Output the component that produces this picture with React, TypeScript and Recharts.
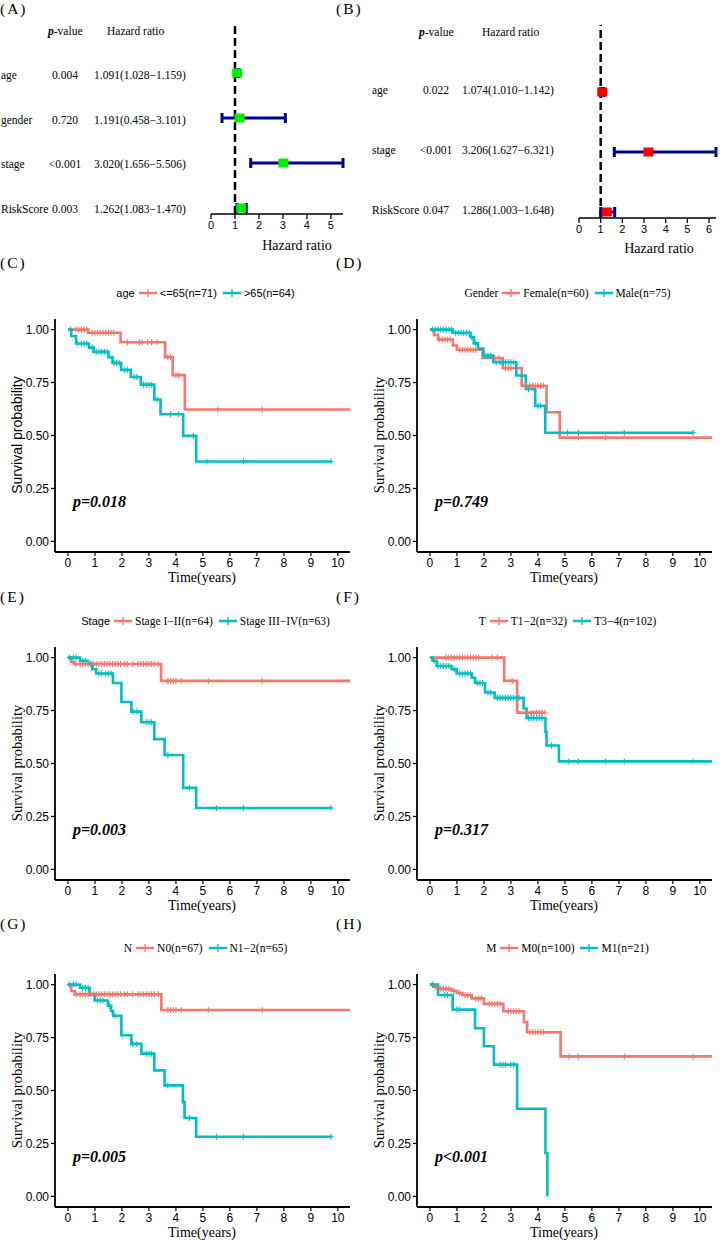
import React from 'react';
import {
  ComposedChart,
  ScatterChart,
  Line,
  Scatter,
  XAxis,
  YAxis,
  ReferenceLine,
  ErrorBar,
} from 'recharts';

const SERIF = '"Liberation Serif", "Times New Roman", serif';
const SANS = '"Liberation Sans", Arial, sans-serif';
const RED = '#F8766D';
const CYAN = '#00BFC4';
const NAVY = '#00008B';

// ---- (A) univariate cox
const uniVars = ['age', 'gender', 'stage', 'RiskScore'];
const uniP = ['0.004', '0.720', '<0.001', '0.003'];
const uniHR = [1.091, 1.191, 3.02, 1.262];
const uniLow = [1.028, 0.458, 1.656, 1.083];
const uniHigh = [1.159, 3.101, 5.506, 1.47];
const uniTicks = [0, 1, 2, 3, 4, 5];

// ---- (B) multivariate cox
const multiVars = ['age', 'stage', 'RiskScore'];
const multiP = ['0.022', '<0.001', '0.047'];
const multiHR = [1.074, 3.206, 1.286];
const multiLow = [1.01, 1.627, 1.003];
const multiHigh = [1.142, 6.321, 1.648];
const multiTicks = [0, 1, 2, 3, 4, 5, 6];

// ---- KM curves: step times, survival after each step, last follow-up, censor times
const timeTicks = [0, 1, 2, 3, 4, 5, 6, 7, 8, 9, 10];
const survTicks = [0, 0.25, 0.5, 0.75, 1];

// (C) age
const cRedT = [0, 0.75, 1.95, 3.6, 3.88, 4.33];
const cRedS = [1, 0.985, 0.94, 0.87, 0.785, 0.623];
const cRedEnd = 10.45;
const cRedCens = [0.3, 0.4, 0.5, 0.6, 0.7, 0.9, 1.0, 1.1, 1.2, 1.3, 1.4, 1.5, 1.6, 1.7, 2.2, 2.65, 2.75, 2.95, 3.1, 3.3, 3.7, 3.8, 4.0, 4.1, 5.55, 7.2];
const cCyanT = [0, 0.12, 0.3, 0.78, 0.95, 1.5, 1.65, 1.97, 2.33, 2.7, 3.2, 3.43, 4.27, 4.75];
const cCyanS = [1, 0.97, 0.934, 0.915, 0.895, 0.87, 0.843, 0.81, 0.776, 0.74, 0.67, 0.6, 0.498, 0.377];
const cCyanEnd = 9.75;
const cCyanCens = [0.1, 0.35, 0.5, 0.6, 0.7, 0.9, 1.05, 1.15, 1.25, 1.35, 1.45, 1.7, 1.8, 1.9, 2.1, 2.2, 2.45, 2.55, 2.8, 2.9, 3.0, 3.1, 3.3, 3.8, 4.1, 4.65, 5.15, 6.5, 9.75];

// (D) gender
const dRedT = [0, 0.15, 0.3, 0.85, 1.0, 1.95, 2.7, 3.4, 4.32, 4.81];
const dRedS = [1, 0.975, 0.953, 0.925, 0.905, 0.866, 0.818, 0.735, 0.61, 0.49];
const dRedEnd = 10.45;
const dRedCens = [0.35, 0.45, 0.55, 0.65, 0.75, 1.1, 1.2, 1.3, 1.4, 1.5, 1.6, 1.7, 2.4, 2.55, 2.8, 2.9, 3.0, 3.55, 3.7, 3.8, 3.9, 4.0, 4.1, 4.2, 5.5, 6.5];
const dCyanT = [0, 0.85, 1.5, 1.62, 1.78, 1.98, 2.35, 3.2, 3.55, 3.9, 4.27];
const dCyanS = [1, 0.985, 0.965, 0.935, 0.91, 0.877, 0.846, 0.783, 0.72, 0.64, 0.513];
const dCyanEnd = 9.75;
const dCyanCens = [0.1, 0.2, 0.3, 0.4, 0.5, 0.6, 0.7, 0.8, 0.95, 1.05, 1.15, 1.25, 1.35, 1.45, 1.55, 1.7, 2.05, 2.15, 2.25, 2.45, 2.6, 2.7, 2.8, 2.9, 3.0, 3.1, 3.4, 3.65, 4.0, 4.1, 5.1, 5.5, 7.2, 9.75];

// (E) stage
const eRedT = [0, 0.12, 0.22, 3.45];
const eRedS = [1, 0.98, 0.97, 0.89];
const eRedEnd = 10.45;
const eRedCens = [0.3, 0.45, 0.55, 0.65, 0.75, 0.85, 0.95, 1.05, 1.15, 1.25, 1.35, 1.45, 1.55, 1.65, 1.75, 1.85, 1.95, 2.1, 2.2, 2.4, 2.6, 2.7, 2.8, 2.9, 3.0, 3.1, 3.2, 3.35, 3.7, 3.8, 3.9, 4.0, 4.2, 5.2, 7.2];
const eCyanT = [0, 0.45, 0.75, 0.9, 1.05, 1.67, 1.98, 2.35, 2.72, 3.2, 3.58, 4.27, 4.75];
const eCyanS = [1, 0.985, 0.97, 0.945, 0.925, 0.88, 0.79, 0.745, 0.695, 0.615, 0.54, 0.385, 0.29];
const eCyanEnd = 9.75;
const eCyanCens = [0.05, 0.2, 0.3, 0.55, 0.65, 0.85, 1.15, 1.25, 1.4, 1.5, 1.6, 2.4, 2.55, 2.9, 3.0, 3.1, 3.7, 4.5, 5.5, 6.5, 9.75];

// (F) T
const fRedT = [0, 2.75, 3.23];
const fRedS = [1, 0.89, 0.74];
const fRedEnd = 4.26;
const fRedCens = [0.6, 0.7, 0.8, 0.9, 1.0, 1.1, 1.2, 1.3, 1.4, 1.5, 1.6, 1.7, 1.8, 2.3, 2.5, 3.05, 3.6, 3.75, 3.85, 3.95, 4.05, 4.15, 4.26];
const fCyanT = [0, 0.1, 0.25, 0.8, 0.99, 1.55, 1.67, 2.04, 2.4, 3.47, 3.58, 4.28, 4.32, 4.78];
const fCyanS = [1, 0.985, 0.96, 0.945, 0.925, 0.905, 0.88, 0.835, 0.81, 0.76, 0.715, 0.65, 0.585, 0.51];
const fCyanEnd = 10.45;
const fCyanCens = [0.15, 0.3, 0.4, 0.5, 0.6, 0.7, 0.9, 1.1, 1.2, 1.3, 1.4, 1.5, 1.75, 1.85, 1.95, 2.15, 2.25, 2.5, 2.6, 2.7, 2.8, 2.9, 3.0, 3.1, 3.2, 3.3, 3.65, 3.75, 3.85, 3.95, 4.05, 4.15, 4.5, 5.15, 5.5, 6.5, 7.2, 9.75];

// (G) N
const gRedT = [0, 0.12, 0.25, 3.46];
const gRedS = [1, 0.97, 0.954, 0.88];
const gRedEnd = 10.45;
const gRedCens = [0.3, 0.45, 0.55, 0.65, 0.75, 0.85, 0.95, 1.05, 1.15, 1.25, 1.35, 1.45, 1.55, 1.65, 1.75, 1.85, 1.95, 2.1, 2.2, 2.4, 2.6, 2.7, 2.8, 2.9, 3.0, 3.1, 3.2, 3.35, 3.7, 3.8, 3.9, 4.0, 4.2, 5.2, 7.2];
const gCyanT = [0, 0.45, 0.8, 0.99, 1.48, 1.6, 1.67, 1.98, 2.35, 2.72, 3.2, 3.58, 4.26, 4.32, 4.75];
const gCyanS = [1, 0.985, 0.955, 0.925, 0.9, 0.875, 0.853, 0.761, 0.72, 0.674, 0.595, 0.524, 0.445, 0.37, 0.282];
const gCyanEnd = 9.75;
const gCyanCens = [0.05, 0.2, 0.3, 0.55, 0.65, 0.75, 1.1, 1.2, 1.3, 1.55, 1.75, 2.4, 2.55, 2.9, 3.0, 3.1, 3.7, 4.5, 5.5, 6.5, 9.75];

// (H) M
const hRedT = [0, 0.12, 0.3, 0.8, 1.0, 1.2, 1.55, 2.0, 2.72, 3.48, 3.6, 4.84];
const hRedS = [1, 0.99, 0.98, 0.97, 0.96, 0.95, 0.935, 0.909, 0.874, 0.822, 0.775, 0.661];
const hRedEnd = 10.45;
const hRedCens = [0.2, 0.4, 0.5, 0.6, 0.7, 0.9, 1.1, 1.3, 1.4, 1.5, 1.7, 1.8, 1.9, 2.2, 2.3, 2.4, 2.5, 2.6, 2.9, 3.0, 3.1, 3.2, 3.3, 3.7, 3.8, 3.9, 4.0, 4.1, 4.2, 5.15, 5.5, 7.2, 9.75];
const hCyanT = [0, 0.3, 0.84, 1.67, 2.0, 2.37, 3.23, 4.28, 4.35];
const hCyanS = [1, 0.951, 0.882, 0.794, 0.709, 0.622, 0.414, 0.205, 0];
const hCyanEnd = 4.35;
const hCyanCens = [0.1, 0.55, 0.65, 1.0, 1.1, 2.6, 2.7, 2.8, 3.0, 3.1];

type Curve = { t: number[]; s: number[]; end: number; cens: number[] };

const mk = (t: number[], s: number[], end: number, cens: number[]): Curve => ({ t, s, end, cens });

const stepAt = (c: Curve, x: number) => {
  let v = c.s[0];
  c.t.forEach((t, i) => {
    if (t <= x) v = c.s[i];
  });
  return v;
};
const stepData = (c: Curve) => [
  ...c.t.map((t, i) => ({ t, s: c.s[i] })),
  { t: c.end, s: c.s[c.s.length - 1] },
];
const censData = (c: Curve) => c.cens.map((t) => ({ t, s: stepAt(c, t) }));

// censor mark "+"
const plus = (color: string) => (p: any) => (
  <g>
    <line x1={p.cx} x2={p.cx} y1={p.cy - 3} y2={p.cy + 3} stroke={color} strokeWidth={1.1} />
    <line x1={p.cx - 2.5} x2={p.cx + 2.5} y1={p.cy} y2={p.cy} stroke={color} strokeWidth={1.1} />
  </g>
);

function Key({ color }: { color: string }) {
  return (
    <svg width={18} height={10} style={{ margin: '0 3px 0 4px', flex: 'none' }}>
      <line x1={0} x2={18} y1={5} y2={5} stroke={color} strokeWidth={2.5} />
      <line x1={9} x2={9} y1={1} y2={9} stroke={color} strokeWidth={1.3} />
    </svg>
  );
}

type KMProps = {
  left: number;
  top: number;
  red: Curve;
  cyan: Curve;
  legendTitle: string;
  legendLabels: string[];
  titleSans: boolean;
  labelSans: boolean;
  ySans: boolean;
  pText: string;
};

function KMPanel({ left, top, red, cyan, legendTitle, legendLabels, titleSans, labelSans, ySans, pText }: KMProps) {
  const axisStyle = { stroke: '#000', strokeWidth: 1.8 };
  const tickStyle = { fill: '#000', fontSize: 12, fontFamily: SANS };
  return (
    <div style={{ position: 'absolute', left, top, width: 362, height: 360 }}>
      <div style={{ position: 'absolute', left: 0, top: 81 }}>
        <ComposedChart width={362} height={277} margin={{ top: 8, right: 12, left: 0, bottom: 0 }}>
          <XAxis
            type="number"
            dataKey="t"
            domain={() => [-0.48, 10.44]}
            ticks={timeTicks}
            interval={0}
            height={36}
            tickSize={4}
            axisLine={axisStyle}
            tickLine={{ stroke: '#000', strokeWidth: 1.2 }}
            tick={tickStyle}
          />
          <YAxis
            type="number"
            domain={() => [-0.05, 1.05]}
            ticks={survTicks}
            interval={0}
            width={55}
            tickSize={4}
            tickFormatter={(v: number) => v.toFixed(2)}
            axisLine={axisStyle}
            tickLine={{ stroke: '#000', strokeWidth: 1.2 }}
            tick={tickStyle}
          />
          <Line data={stepData(red)} dataKey="s" type="stepAfter" stroke={RED} strokeWidth={2.6} dot={false} activeDot={false} isAnimationActive={false} />
          <Line data={stepData(cyan)} dataKey="s" type="stepAfter" stroke={CYAN} strokeWidth={2.6} dot={false} activeDot={false} isAnimationActive={false} />
          <Scatter data={censData(red)} dataKey="s" shape={plus(RED)} isAnimationActive={false} />
          <Scatter data={censData(cyan)} dataKey="s" shape={plus(CYAN)} isAnimationActive={false} />
        </ComposedChart>
      </div>
      <div
        style={{
          position: 'absolute',
          left: 58,
          width: 295,
          top: 55,
          height: 16,
          display: 'flex',
          justifyContent: 'center',
          alignItems: 'center',
          whiteSpace: 'nowrap',
          color: '#000',
        }}
      >
        <span style={{ fontFamily: titleSans ? SANS : SERIF, fontSize: titleSans ? 11 : 11.5 }}>{legendTitle}</span>
        <Key color={RED} />
        <span style={{ fontFamily: labelSans ? SANS : SERIF, fontSize: labelSans ? 11 : 11.5 }}>{legendLabels[0]}</span>
        <span style={{ width: 2 }} />
        <Key color={CYAN} />
        <span style={{ fontFamily: labelSans ? SANS : SERIF, fontSize: labelSans ? 11 : 11.5 }}>{legendLabels[1]}</span>
      </div>
      <svg width={362} height={360} style={{ position: 'absolute', left: 0, top: 0, pointerEvents: 'none' }}>
        <text
          x={17}
          y={205}
          transform="rotate(-90 17 205)"
          textAnchor="middle"
          dominantBaseline="central"
          fontFamily={ySans ? SANS : SERIF}
          fontSize={ySans ? 14 : 14.5}
          fill="#000"
        >
          Survival probability
        </text>
        <text x={202} y={347} textAnchor="middle" dominantBaseline="central" fontFamily={SERIF} fontSize={14} fill="#000">
          Time(years)
        </text>
        <text x={73} y={271} dominantBaseline="central" fontFamily={SERIF} fontSize={16} fontWeight="bold" fontStyle="italic" fill="#000">
          {pText}
        </text>
      </svg>
    </div>
  );
}

type ForestProps = {
  left: number;
  vars: string[];
  pvals: string[];
  hr: number[];
  lo: number[];
  hi: number[];
  ticks: number[];
  color: string;
  yDomain: number[];
  margin: { top: number; right: number; left: number; bottom: number };
  axisH: number;
  rowY0: number;
  rowPitch: number;
  labelX: number;
  pX: number;
  hrX: number;
  headY: number;
  headPX: number;
  headHRX: number;
  titleX: number;
  titleY: number;
};

function ForestPanel(props: ForestProps) {
  const { left, vars, pvals, hr, lo, hi, ticks, color, yDomain, margin, axisH } = props;
  const rows = vars.map((v, i) => ({
    name: v,
    row: vars.length - i,
    hr: hr[i],
    err: [hr[i] - lo[i], hi[i] - hr[i]],
  }));
  const xMax = ticks[ticks.length - 1];
  const box = (p: any) => <rect x={p.cx - 5} y={p.cy - 4.5} width={10} height={9} fill={color} />;
  const txt = { fontFamily: SERIF, fontSize: 11.5, fill: '#000' };
  return (
    <div style={{ position: 'absolute', left, top: 0, width: 362, height: 260 }}>
      <div style={{ position: 'absolute', left: 0, top: 0 }}>
        <ScatterChart width={362} height={240} margin={margin}>
          <XAxis
            type="number"
            dataKey="hr"
            domain={() => [0, xMax]}
            ticks={ticks}
            interval={0}
            height={axisH}
            tickSize={5}
            axisLine={{ stroke: '#000', strokeWidth: 1.3 }}
            tickLine={{ stroke: '#000', strokeWidth: 1.3 }}
            tick={{ fill: '#000', fontSize: 11, fontFamily: SANS }}
          />
          <YAxis type="number" dataKey="row" domain={() => yDomain} hide />
          <ReferenceLine x={1} stroke="#000" strokeWidth={2.5} strokeDasharray="8 4" />
          <Scatter data={rows} fill={color} shape={box} isAnimationActive={false}>
            <ErrorBar dataKey="err" direction="x" width={5} stroke={NAVY} strokeWidth={3} />
          </Scatter>
        </ScatterChart>
      </div>
      <svg width={362} height={260} style={{ position: 'absolute', left: 0, top: 0, pointerEvents: 'none' }}>
        <text x={props.headPX} y={props.headY} dominantBaseline="central" {...txt}>
          <tspan fontWeight="bold" fontStyle="italic">p</tspan>-value
        </text>
        <text x={props.headHRX} y={props.headY} dominantBaseline="central" {...txt}>
          Hazard ratio
        </text>
        {vars.map((v, i) => {
          const y = props.rowY0 + i * props.rowPitch;
          return (
            <g key={v}>
              <text x={props.labelX} y={y} dominantBaseline="central" {...txt}>
                {v}
              </text>
              <text x={props.pX} y={y} textAnchor="middle" dominantBaseline="central" {...txt}>
                {pvals[i]}
              </text>
              <text x={props.hrX} y={y} dominantBaseline="central" {...txt}>
                {`${hr[i].toFixed(3)}(${lo[i].toFixed(3)}\u2212${hi[i].toFixed(3)})`}
              </text>
            </g>
          );
        })}
        <text x={props.titleX} y={props.titleY} textAnchor="middle" dominantBaseline="central" fontFamily={SERIF} fontSize={14} fill="#000">
          Hazard ratio
        </text>
      </svg>
    </div>
  );
}

const panelLabels = [
  { t: '(A)', x: 0, y: 8 },
  { t: '(B)', x: 336, y: 8 },
  { t: '(C)', x: 0, y: 262 },
  { t: '(D)', x: 336, y: 262 },
  { t: '(E)', x: 0, y: 596 },
  { t: '(F)', x: 336, y: 596 },
  { t: '(G)', x: 0, y: 923 },
  { t: '(H)', x: 336, y: 923 },
];

export default function App() {
  return (
    <div style={{ position: 'absolute', left: 0, top: 0, width: 724, height: 1240, background: '#fff', overflow: 'hidden' }}>
      <ForestPanel
        left={0}
        vars={uniVars}
        pvals={uniP}
        hr={uniHR}
        lo={uniLow}
        hi={uniHigh}
        ticks={uniTicks}
        color="#00EE00"
        yDomain={[0.867, 5.133]}
        margin={{ top: 22, right: 19, left: 211, bottom: 0 }}
        axisH={26}
        rowY0={75}
        rowPitch={44.7}
        labelX={1}
        pX={65}
        hrX={94}
        headY={31}
        headPX={48}
        headHRX={107}
        titleX={297}
        titleY={245}
      />
      <ForestPanel
        left={362}
        vars={multiVars}
        pvals={multiP}
        hr={multiHR}
        lo={multiLow}
        hi={multiHigh}
        ticks={multiTicks}
        color="#FF0000"
        yDomain={[0.9, 4.117]}
        margin={{ top: 25, right: 8, left: 217, bottom: 0 }}
        axisH={22}
        rowY0={90}
        rowPitch={60}
        labelX={10}
        pX={74}
        hrX={100}
        headY={32}
        headPX={57}
        headHRX={120}
        titleX={297}
        titleY={248}
      />
      <KMPanel left={0} top={230} red={mk(cRedT, cRedS, cRedEnd, cRedCens)} cyan={mk(cCyanT, cCyanS, cCyanEnd, cCyanCens)}
        legendTitle="age" legendLabels={['<=65(n=71)', '>65(n=64)']} titleSans labelSans ySans pText="p=0.018" />
      <KMPanel left={362} top={230} red={mk(dRedT, dRedS, dRedEnd, dRedCens)} cyan={mk(dCyanT, dCyanS, dCyanEnd, dCyanCens)}
        legendTitle="Gender" legendLabels={['Female(n=60)', 'Male(n=75)']} titleSans={false} labelSans={false} ySans={false} pText="p=0.749" />
      <KMPanel left={0} top={558} red={mk(eRedT, eRedS, eRedEnd, eRedCens)} cyan={mk(eCyanT, eCyanS, eCyanEnd, eCyanCens)}
        legendTitle="Stage" legendLabels={['Stage I\u2212II(n=64)', 'Stage III\u2212IV(n=63)']} titleSans labelSans={false} ySans={false} pText="p=0.003" />
      <KMPanel left={362} top={558} red={mk(fRedT, fRedS, fRedEnd, fRedCens)} cyan={mk(fCyanT, fCyanS, fCyanEnd, fCyanCens)}
        legendTitle="T" legendLabels={['T1\u22122(n=32)', 'T3\u22124(n=102)']} titleSans={false} labelSans={false} ySans={false} pText="p=0.317" />
      <KMPanel left={0} top={885} red={mk(gRedT, gRedS, gRedEnd, gRedCens)} cyan={mk(gCyanT, gCyanS, gCyanEnd, gCyanCens)}
        legendTitle="N" legendLabels={['N0(n=67)', 'N1\u22122(n=65)']} titleSans={false} labelSans={false} ySans={false} pText="p=0.005" />
      <KMPanel left={362} top={885} red={mk(hRedT, hRedS, hRedEnd, hRedCens)} cyan={mk(hCyanT, hCyanS, hCyanEnd, hCyanCens)}
        legendTitle="M" legendLabels={['M0(n=100)', 'M1(n=21)']} titleSans={false} labelSans={false} ySans={false} pText="p<0.001" />
      <svg width={724} height={1240} style={{ position: 'absolute', left: 0, top: 0, pointerEvents: 'none' }}>
        {panelLabels.map((l) => (
          <text key={l.t} x={l.x} y={l.y} dominantBaseline="central" fontFamily={SERIF} fontSize={15.5} letterSpacing={2} fill="#000">
            {l.t}
          </text>
        ))}
      </svg>
    </div>
  );
}
